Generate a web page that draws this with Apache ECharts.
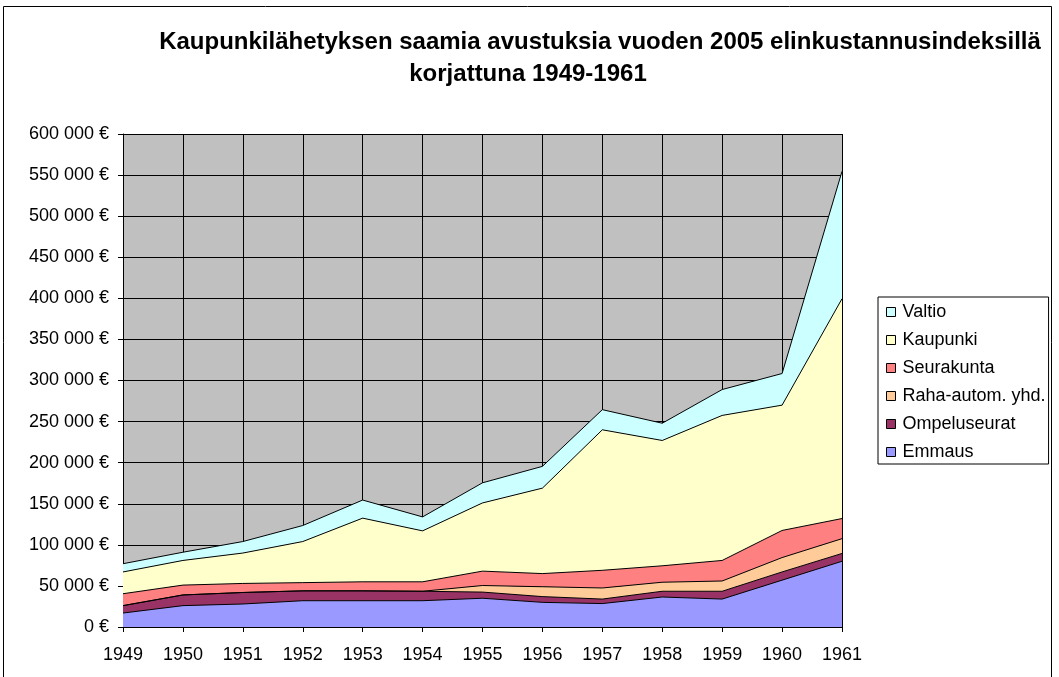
<!DOCTYPE html>
<html>
<head>
<meta charset="utf-8">
<script src="https://cdn.jsdelivr.net/npm/echarts@6/dist/echarts.min.js"></script>
<style>
  html, body { margin: 0; padding: 0; background: #fff; }
  #chart { width: 1059px; height: 677px; }
</style>
</head>
<body>
<div id="chart"></div>
<script>
// vuodet ja avustukset (euroa, vuoden 2005 rahassa)
const years = ['1949', '1950', '1951', '1952', '1953', '1954', '1955', '1956', '1957', '1958', '1959', '1960', '1961'];
const emmaus = [17000, 26000, 28000, 32000, 32000, 32000, 35000, 30000, 28500, 36500, 34000, 57000, 80000];
const ompeluseurat = [9000, 13000, 14000, 12000, 12000, 11500, 7500, 7000, 5500, 7000, 9500, 10000, 9500];
const rahaAutom = [0, 0, 0, 0, 0, 0, 8000, 12000, 13500, 11000, 12500, 17500, 18000];
const seurakunta = [14500, 12000, 11000, 10000, 11000, 11500, 17500, 16000, 21500, 20000, 25000, 33000, 24500];
const kaupunki = [26500, 30000, 37000, 50000, 77500, 62000, 83000, 104000, 171000, 152500, 176500, 152500, 267500];
const valtio = [10000, 10000, 14000, 19500, 22000, 17000, 24500, 26500, 24500, 21000, 31500, 38500, 155000];

const seriesNames = ['Emmaus', 'Ompeluseurat', 'Raha-autom. yhd.', 'Seurakunta', 'Kaupunki', 'Valtio'];
const seriesData = [emmaus, ompeluseurat, rahaAutom, seurakunta, kaupunki, valtio];
const colors = ['#9999FF', '#993366', '#FFCC99', '#FF8080', '#FFFFCC', '#CCFFFF'];

const font = 'Liberation Sans, Arial, sans-serif';

const chart = echarts.init(document.getElementById('chart'));

/** euromuotoilu: 600 000 € */
const euro = (v) => String(v).replace(/\B(?=(\d{3})+(?!\d))/g, ' ') + ' €';

const titleStyle = {
    fontFamily: font,
    fontSize: 24,
    fontWeight: 'bold',
    color: '#000'
};

const options = {
    animation: false,
    color: colors,
    title: [{
        text: 'Kaupunkilähetyksen saamia avustuksia vuoden 2005 elinkustannusindeksillä',
        left: 600,
        top: 30,
        textAlign: 'center',
        padding: 0,
        textStyle: titleStyle
    }, {
        text: 'korjattuna 1949-1961',
        left: 528,
        top: 62,
        textAlign: 'center',
        padding: 0,
        textStyle: titleStyle
    }],
    legend: {
        orient: 'vertical',
        left: 878,
        top: 297,
        padding: [6, 3, 3, 8],
        itemGap: 10,
        itemWidth: 9,
        itemHeight: 9,
        borderColor: '#000',
        borderWidth: 1,
        backgroundColor: '#fff',
        icon: 'rect',
        data: ['Valtio', 'Kaupunki', 'Seurakunta', 'Raha-autom. yhd.', 'Ompeluseurat', 'Emmaus'],
        itemStyle: { borderColor: '#000', borderWidth: 1 },
        textStyle: {
            fontFamily: font,
            fontSize: 18,
            color: '#000',
            padding: [0, 0, 0, 2]
        }
    },
    graphic: [{
        type: 'rect',
        shape: { x: 3.5, y: 6.5, width: 1048, height: 1000 },
        style: { fill: null, stroke: '#000', lineWidth: 1 },
        silent: true
    }],
    grid: {
        left: 123,
        top: 134,
        right: 217,
        bottom: 50,
        show: true,
        backgroundColor: '#C0C0C0',
        borderWidth: 0
    },
    xAxis: {
        type: 'category',
        data: years,
        boundaryGap: false,
        axisLine: { lineStyle: { color: '#000', width: 1 } },
        axisTick: { show: true, length: 5, inside: false, lineStyle: { color: '#000' } },
        axisLabel: { fontFamily: font, fontSize: 18, color: '#000', margin: 19 },
        splitLine: { show: true, lineStyle: { color: '#000', width: 1 } }
    },
    yAxis: {
        type: 'value',
        min: 0,
        max: 600000,
        interval: 50000,
        axisLine: { show: true, lineStyle: { color: '#000', width: 1 } },
        axisTick: { show: true, length: 5, lineStyle: { color: '#000' } },
        axisLabel: {
            fontFamily: font,
            fontSize: 18,
            color: '#000',
            margin: 14,
            formatter: euro
        },
        splitLine: { show: true, lineStyle: { color: '#000', width: 1 } }
    },
    series: seriesNames.map((name, i) => ({
        name: name,
        type: 'line',
        stack: 'total',
        data: seriesData[i],
        symbol: 'none',
        lineStyle: { color: '#000', width: 1 },
        areaStyle: { color: colors[i], opacity: 1 },
        itemStyle: { color: colors[i] },
        z: 2
    }))
};

chart.setOption(options);
</script>
</body>
</html>
